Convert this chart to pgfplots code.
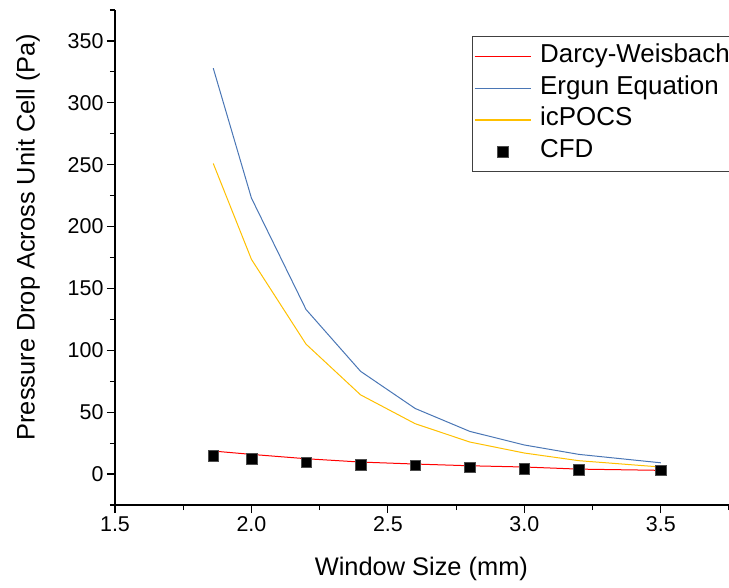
\documentclass[border=0pt]{standalone}
\usepackage{fontspec}
\setmainfont{Liberation Sans}
\usepackage{pgfplots}
\pgfplotsset{compat=1.18}
\definecolor{cred}{HTML}{FF0000}
\definecolor{cblue}{HTML}{4A76B5}
\definecolor{cyellow}{HTML}{FFC000}
\begin{document}
\begin{tikzpicture}
\begin{axis}[
  scale only axis, width=614bp, height=495bp,
  at={(0,0)}, anchor=south west,
  xmin=1.5, xmax=3.75, ymin=-25, ymax=375,
  axis lines*=left,
  axis line style={line width=1.2bp, -},
  xtick={1.5,2,2.5,3,3.5},
  minor xtick={1.75,2.25,2.75,3.25,3.75},
  ytick={0,50,...,350},
  minor ytick={-25,25,...,375},
  tick align=outside,
  major tick length=8bp, minor tick length=5bp,
  every tick/.style={black, line width=1.2bp},
  tick label style={font=\fontsize{21.5}{24}\selectfont},
  /pgf/number format/assume math mode=true,
  xticklabel={\pgfmathprintnumber[fixed,fixed zerofill,precision=1,assume math mode=true]{\tick}},
  xlabel={Window Size (mm)},
  ylabel={Pressure Drop Across Unit Cell (Pa)},
  xlabel style={at={(axis description cs:0.499,-0.129)}, anchor=center, font=\fontsize{25.5}{30}\selectfont},
  ylabel style={at={(axis description cs:-0.1417,0.541)}, anchor=center, font=\fontsize{25.5}{30}\selectfont},
  legend style={at={(axis description cs:0.5814,0.9465)}, anchor=north west,
    draw=black!75, line width=0.8bp, inner xsep=1.5bp, inner ysep=4bp,
    font=\fontsize{26}{30}\selectfont, column sep=6bp,
    nodes={text height=18bp, text depth=6bp, inner ysep=3.8bp, inner xsep=3bp}},
  legend cell align=left,
  legend image code/.code={\draw[mark repeat=2,mark phase=2,line width=1.3bp] plot coordinates {(0bp,0bp) (28bp,0bp) (56bp,0bp)};},
]
\addplot[color=cred, line width=1bp] coordinates {(1.86,18.6)(2.0,15.9)(2.2,12.4)(2.4,9.7)(2.6,8.1)(2.8,6.7)(3.0,5.7)(3.2,4.0)(3.5,3.0)};
\addlegendentry{Darcy-Weisbach}
\addplot[color=cblue, line width=1bp] coordinates {(1.86,328)(2.0,223)(2.2,133)(2.4,83)(2.6,53)(2.8,34.5)(3.0,23.5)(3.2,15.9)(3.5,9.1)};
\addlegendentry{Ergun Equation}
\addplot[color=cyellow, line width=1bp] coordinates {(1.86,251)(2.0,173.5)(2.2,105)(2.4,64)(2.6,40.7)(2.8,25.9)(3.0,17)(3.2,10.8)(3.5,5.7)};
\addlegendentry{icPOCS}
\addplot[only marks, mark=square*, mark size=5.3bp, black, mark options={fill=black, draw=black!70, line width=0.4bp}] coordinates {(1.86,14.8)(2.0,12.4)(2.2,9.7)(2.4,7.5)(2.6,7.3)(2.8,5.4)(3.0,4.5)(3.2,3.7)(3.5,3.2)};
\addlegendentry{CFD}
\end{axis}
\pgfresetboundingbox
\useasboundingbox (-115bp,-83bp) rectangle (614bp,505bp);
\end{tikzpicture}
\end{document}
